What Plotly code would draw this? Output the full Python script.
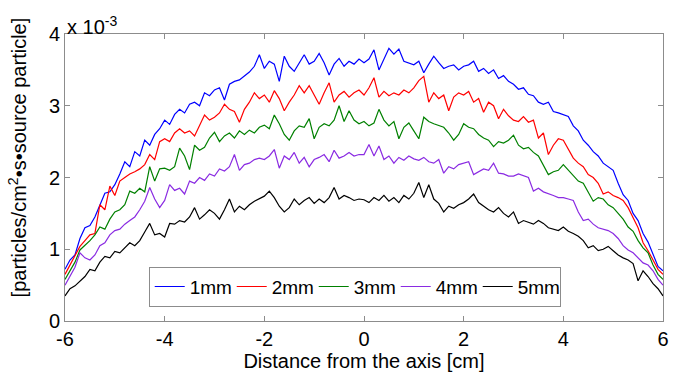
import plotly.graph_objects as go

x_cm = [round(-6 + 0.1 * i, 1) for i in range(121)]

# values in units of 1e-3 particles/cm^2/s/source particle
flux_1mm = [0.72,0.85,0.92,1.15,1.30,1.33,1.45,1.62,1.78,1.80,
            1.90,2.05,2.22,2.15,2.36,2.30,2.52,2.45,2.60,2.68,
            2.80,2.74,2.88,2.95,2.90,3.02,3.05,3.00,3.18,3.14,
            3.22,3.25,3.08,3.30,3.34,3.36,3.41,3.47,3.55,3.71,
            3.52,3.62,3.58,3.34,3.69,3.55,3.48,3.60,3.71,3.58,
            3.62,3.73,3.60,3.43,3.58,3.66,3.55,3.62,3.58,3.65,
            3.60,3.65,3.78,3.50,3.66,3.80,3.72,3.79,3.62,3.60,
            3.57,3.62,3.46,3.58,3.69,3.60,3.52,3.55,3.57,3.50,
            3.55,3.57,3.62,3.48,3.52,3.45,3.50,3.38,3.42,3.34,
            3.30,3.23,3.25,3.16,3.14,3.05,3.02,3.05,2.92,2.90,
            2.87,2.85,2.72,2.65,2.52,2.45,2.36,2.30,2.20,2.15,
            2.10,1.92,1.76,1.68,1.50,1.40,1.22,1.10,0.92,0.76,
            0.70]
flux_2mm = [0.65,0.78,0.90,1.04,1.12,1.20,1.22,1.62,1.55,1.88,
            1.75,1.95,2.00,2.05,2.08,2.12,2.18,2.32,2.25,2.50,
            2.54,2.50,2.62,2.68,2.62,2.65,2.58,2.72,2.87,2.80,
            2.84,2.90,3.02,2.95,2.92,2.77,2.95,3.05,3.18,3.10,
            3.15,3.05,3.21,3.10,2.93,3.05,3.15,3.28,3.18,3.28,
            3.15,3.02,3.18,3.32,3.05,3.15,3.20,3.12,3.18,3.22,
            3.15,3.25,3.39,3.12,3.20,3.14,3.18,3.15,3.22,3.18,
            3.25,3.35,3.41,3.05,3.18,3.10,3.15,2.93,3.12,3.18,
            3.15,3.20,3.05,3.10,2.91,3.05,3.00,2.82,2.95,2.86,
            2.80,2.78,2.85,2.77,2.80,2.55,2.62,2.32,2.45,2.54,
            2.52,2.40,2.27,2.20,2.15,2.04,2.00,1.92,1.77,1.80,
            1.75,1.72,1.68,1.58,1.45,1.30,1.09,0.98,0.85,0.72,
            0.65]
flux_3mm = [0.58,0.70,0.82,0.99,1.05,1.12,1.20,1.31,1.28,1.42,
            1.52,1.55,1.62,1.81,1.78,1.85,1.80,2.15,1.95,2.12,
            2.13,2.10,2.15,2.41,2.30,2.11,2.45,2.38,2.42,2.55,
            2.63,2.50,2.58,2.62,2.55,2.65,2.60,2.66,2.62,2.70,
            2.73,2.68,2.87,2.75,2.60,2.52,2.65,2.72,2.70,2.82,
            2.54,2.70,2.75,2.72,2.80,3.00,2.78,2.93,2.80,2.75,
            2.78,2.72,2.76,2.95,2.80,2.72,2.78,2.54,2.70,2.76,
            2.65,2.54,2.84,2.78,2.75,2.72,2.70,2.62,2.52,2.60,
            2.75,2.70,2.68,2.60,2.55,2.52,2.43,2.50,2.48,2.52,
            2.59,2.45,2.40,2.42,2.35,2.30,2.18,2.04,2.08,2.10,
            2.18,2.10,2.02,1.95,1.92,1.80,1.67,1.72,1.70,1.62,
            1.58,1.50,1.42,1.31,1.25,1.12,1.02,0.95,0.78,0.65,
            0.58]
flux_4mm = [0.50,0.62,0.75,0.95,0.88,0.85,0.92,1.05,1.09,1.20,
            1.26,1.28,1.35,1.40,1.45,1.55,1.67,1.86,1.70,1.58,
            1.68,1.90,1.82,1.85,1.77,1.95,1.92,2.00,1.96,2.05,
            2.02,2.12,2.09,2.15,2.32,2.10,2.18,2.20,2.25,2.27,
            2.25,2.30,2.39,2.13,2.30,2.25,2.35,2.20,2.28,2.15,
            2.25,2.28,2.32,2.22,2.38,2.27,2.30,2.35,2.30,2.32,
            2.32,2.46,2.30,2.44,2.25,2.30,2.20,2.28,2.24,2.30,
            2.26,2.24,2.28,2.22,2.20,2.25,2.06,2.15,2.12,2.18,
            2.20,2.22,2.04,2.08,2.12,2.10,2.20,2.06,2.05,2.02,
            2.02,2.05,2.02,2.00,1.81,1.85,1.80,1.78,1.75,1.72,
            1.72,1.70,1.68,1.52,1.40,1.42,1.35,1.30,1.28,1.26,
            1.22,1.15,1.05,0.99,0.95,0.88,0.81,0.78,0.70,0.58,
            0.50]
flux_5mm = [0.35,0.45,0.49,0.55,0.62,0.72,0.70,0.82,0.90,0.88,
            0.97,0.95,1.02,1.09,1.05,1.12,1.24,1.36,1.20,1.22,
            1.17,1.36,1.35,1.40,1.38,1.45,1.58,1.42,1.48,1.55,
            1.50,1.42,1.55,1.70,1.52,1.60,1.55,1.62,1.67,1.70,
            1.74,1.81,1.72,1.60,1.52,1.58,1.70,1.62,1.68,1.72,
            1.64,1.70,1.65,1.72,1.86,1.70,1.75,1.72,1.68,1.70,
            1.69,1.65,1.72,1.68,1.75,1.67,1.72,1.65,1.75,1.70,
            1.78,1.93,1.72,1.90,1.70,1.64,1.52,1.60,1.57,1.62,
            1.65,1.70,1.77,1.65,1.60,1.55,1.52,1.58,1.50,1.45,
            1.52,1.36,1.40,1.38,1.35,1.40,1.36,1.30,1.28,1.26,
            1.31,1.25,1.22,1.18,1.12,1.02,1.05,0.98,1.00,1.04,
            0.98,0.92,0.88,0.85,0.80,0.56,0.70,0.62,0.52,0.45,
            0.35]

series_names = ["1mm", "2mm", "3mm", "4mm", "5mm"]
series_values = [flux_1mm, flux_2mm, flux_3mm, flux_4mm, flux_5mm]
colors = ["#0000FF", "#FF0000", "#008000", "#8A2BE2", "#000000"]

x_ticks = [-6, -4, -2, 0, 2, 4, 6]
y_ticks = [0, 1, 2, 3, 4]

FONT = "Liberation Sans, Arial, sans-serif"

fig = go.Figure()
for name, vals, c in zip(series_names, series_values, colors):
    fig.add_trace(go.Scatter(x=x_cm, y=vals, mode="lines", name=name,
                             line=dict(color=c, width=1.2)))

axis_common = dict(showgrid=False, zeroline=False, showline=True,
                   linecolor="#8c8c8c", linewidth=1, mirror="ticks",
                   ticks="inside", ticklen=5, tickcolor="#8c8c8c",
                   tickfont=dict(family=FONT, size=20, color="#000"))

fig.update_layout(
    width=681, height=376,
    margin=dict(l=65, r=17, t=34, b=50),
    paper_bgcolor="white", plot_bgcolor="white",
    font=dict(family=FONT, size=20, color="#000"),
    xaxis=dict(range=[-6, 6], tickvals=x_ticks, ticktext=[str(v) for v in x_ticks],
               title=dict(text="Distance from the axis [cm]", font=dict(size=20), standoff=0),
               **axis_common),
    yaxis=dict(range=[0, 4], tickvals=y_ticks, ticktext=[str(v) for v in y_ticks],
               **axis_common),
    legend=dict(orientation="h", x=0.14, y=0.05, xanchor="left", yanchor="bottom",
                bgcolor="white", bordercolor="#8c8c8c", borderwidth=1,
                font=dict(family=FONT, size=19), itemwidth=30,
                entrywidth=37, entrywidthmode="pixels",
                tracegroupgap=0, traceorder="normal"),
    showlegend=True,
)

fig.add_annotation(text="x 10<sup>-3</sup>", xref="paper", yref="paper",
                   x=0.0, y=1.0, xanchor="left", yanchor="bottom", showarrow=False,
                   font=dict(family=FONT, size=20), xshift=0, yshift=-6)
fig.add_annotation(text="[particles/cm<sup>2</sup>•s•source particle]",
                   xref="paper", yref="paper", x=0, y=0.57, xanchor="center",
                   yanchor="middle", textangle=-90, showarrow=False,
                   font=dict(family=FONT, size=20), xshift=-48)

fig.write_html("out.html")
